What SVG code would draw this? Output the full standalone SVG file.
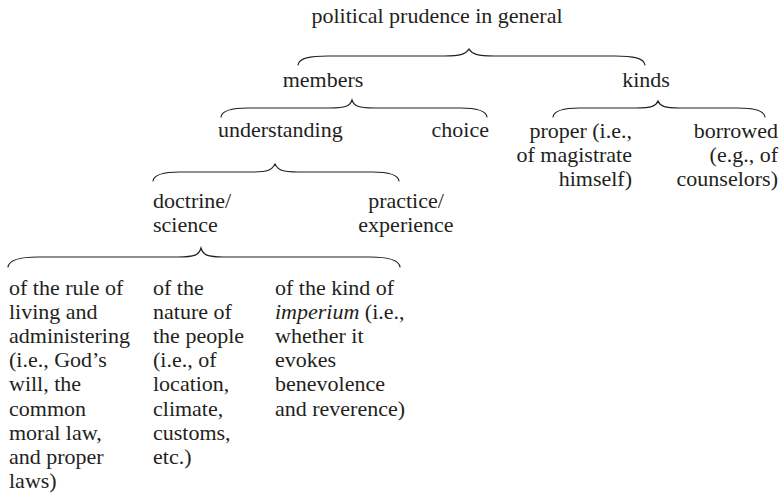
<svg xmlns="http://www.w3.org/2000/svg" width="784" height="498" viewBox="0 0 784 498" font-family="'Liberation Serif', 'Times New Roman', Tinos, Times, 'DejaVu Serif', serif">
<style>
text{font-family:'Liberation Serif','Times New Roman',Tinos,Times,'DejaVu Serif',serif;font-size:22px;fill:#231f20}
.m{text-anchor:middle}.e{text-anchor:end}
.br{fill:none;stroke:#231f20;stroke-width:1.2;stroke-linecap:round}
</style>
<rect width="784" height="498" fill="#fff"/>
<g id="connectors">
<path class="br" d="M298,65 C299,58 310,56 328,56 L444,56 C461,56 466,54 469,49 C472,54 477,56 494,56 L615,56 C633,56 644,58 645,65"/>
<path class="br" d="M221,117 C222,110 232,108 248,108 L330,108 C346,108 350,106 352,100 C354,106 358,108 374,108 L460,108 C476,108 486,110 487,117"/>
<path class="br" d="M553,117 C554,110 564,108 580,108 L636,108 C652,108 656,106 658,101 C660,106 664,108 680,108 L738,108 C754,108 764,110 765,117"/>
<path class="br" d="M153,181 C154,174 164,172 180,172 L252,172 C268,172 272,170 275,164 C278,170 282,172 298,172 L372,172 C388,172 398,174 399,181"/>
<path class="br" d="M8,267 C9,260 19,257 38,257 L178,257 C195,257 199,255 201,248 C203,255 207,257 224,257 L370,257 C389,257 399,260 400,267"/>
</g>
<g id="n-root"><text class="m" x="437" y="23">political prudence in general</text></g>
<g id="n-members"><text class="m" x="323" y="87">members</text></g>
<g id="n-kinds"><text class="m" x="646" y="87">kinds</text></g>
<g id="n-understanding"><text x="218" y="137">understanding</text></g>
<g id="n-choice"><text class="e" x="489" y="137">choice</text></g>
<g id="n-proper"><text class="e" y="138"><tspan x="632">proper (i.e.,</tspan><tspan x="632" dy="24.2">of magistrate</tspan><tspan x="632" dy="24.2">himself)</tspan></text></g>
<g id="n-borrowed"><text class="e" y="138"><tspan x="778">borrowed</tspan><tspan x="778" dy="24.2">(e.g., of</tspan><tspan x="778" dy="24.2">counselors)</tspan></text></g>
<g id="n-doctrine"><text y="208"><tspan x="153">doctrine/</tspan><tspan x="153" dy="24.2">science</tspan></text></g>
<g id="n-practice"><text class="m" y="208"><tspan x="406">practice/</tspan><tspan x="406" dy="24.2">experience</tspan></text></g>
<g id="n-rule"><text y="295"><tspan x="9">of the rule of</tspan><tspan x="9" dy="24.1">living and</tspan><tspan x="9" dy="24.1">administering</tspan><tspan x="9" dy="24.1">(i.e., God’s</tspan><tspan x="9" dy="24.1">will, the</tspan><tspan x="9" dy="24.1">common</tspan><tspan x="9" dy="24.1">moral law,</tspan><tspan x="9" dy="24.1">and proper</tspan><tspan x="9" dy="24.1">laws)</tspan></text></g>
<g id="n-nature"><text y="295"><tspan x="153">of the</tspan><tspan x="153" dy="24.1">nature of</tspan><tspan x="153" dy="24.1">the people</tspan><tspan x="153" dy="24.1">(i.e., of</tspan><tspan x="153" dy="24.1">location,</tspan><tspan x="153" dy="24.1">climate,</tspan><tspan x="153" dy="24.1">customs,</tspan><tspan x="153" dy="24.1">etc.)</tspan></text></g>
<g id="n-imperium"><text y="295"><tspan x="275">of the kind of</tspan><tspan x="275" dy="24.1"><tspan font-style="italic">imperium</tspan> (i.e.,</tspan><tspan x="275" dy="24.1">whether it</tspan><tspan x="275" dy="24.1">evokes</tspan><tspan x="275" dy="24.1">benevolence</tspan><tspan x="275" dy="24.1">and reverence)</tspan></text></g>
</svg>
